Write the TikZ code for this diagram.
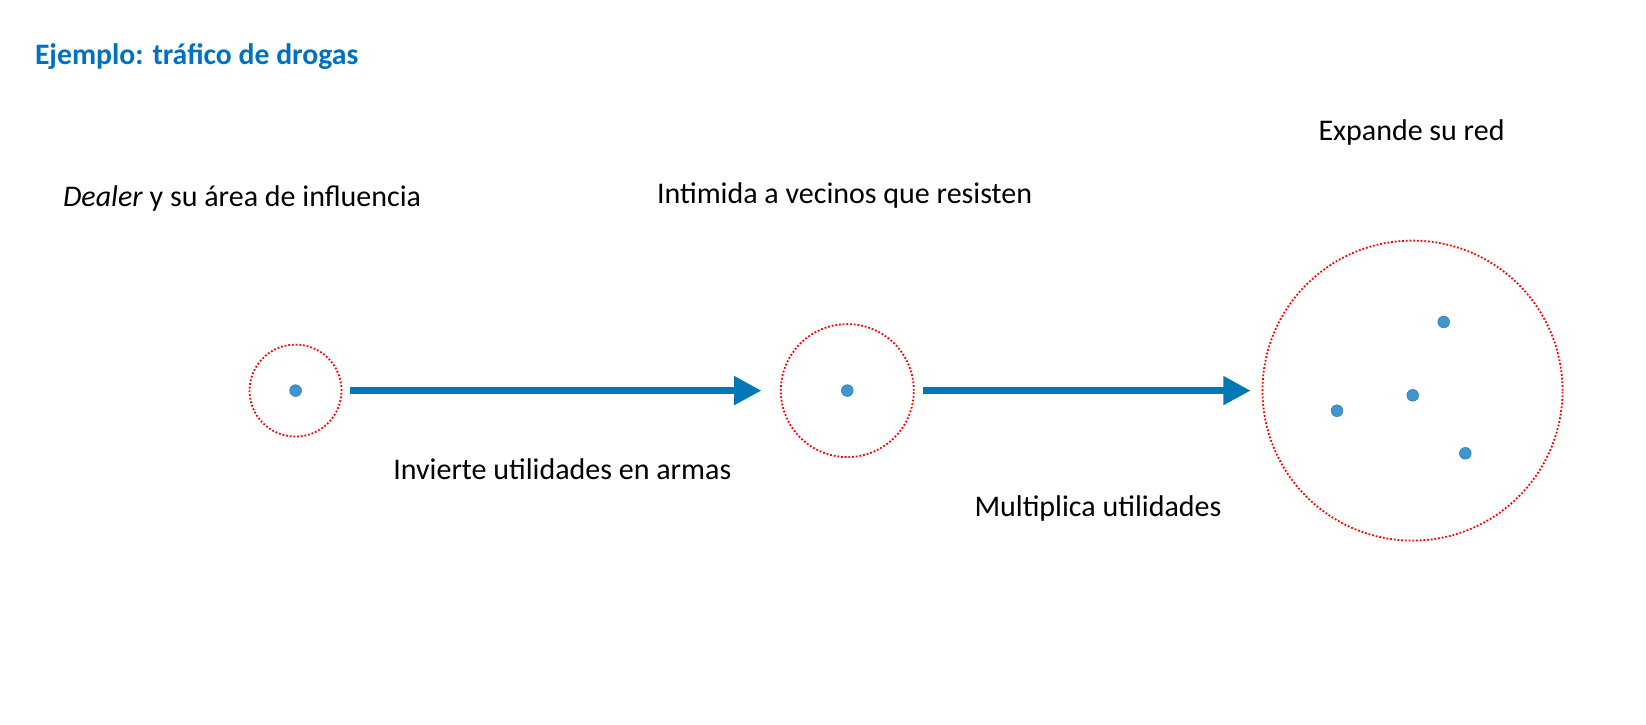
\documentclass[tikz,border=0pt]{standalone}
\usepackage{fontspec}
\setmainfont{Carlito}
\usetikzlibrary{arrows.meta}
\definecolor{titleblue}{HTML}{0070C0}
\definecolor{arrowblue}{HTML}{0078B8}
\definecolor{dotblue}{HTML}{3E96CD}
\definecolor{dotedge}{HTML}{2F7AAE}
\definecolor{ringred}{HTML}{FF0000}
\begin{document}
\begin{tikzpicture}[x=1pt,y=-1pt,
  lbl/.style={anchor=base west,inner sep=0pt,outer sep=0pt,font=\fontsize{30}{36}\selectfont,text=black},
  ttl/.style={anchor=base west,inner sep=0pt,outer sep=0pt,font=\fontsize{29.7}{36}\selectfont\bfseries,text=titleblue},
  ring/.style={circle,draw=ringred,line width=1.8pt,dash pattern=on 1.8pt off 1.9pt,inner sep=0pt,outer sep=0pt},
  dealer/.style={circle,fill=dotblue,draw=dotedge,line width=0.5pt,minimum size=11.8pt,inner sep=0pt},
  flow/.style={draw=arrowblue,line width=7.2pt,-{Triangle[length=27.4pt,width=27.3pt,fill=arrowblue]}}
]
\useasboundingbox (0,0) rectangle (1646,725);
\node[ttl] (title) at (35,64) {Ejemplo: tráfico de drogas};

\node[ring,minimum size=92pt] (c1) at (295.5,390.6) {};
\node[ring,minimum size=133pt] (c2) at (847.3,390.6) {};
\node[ring,minimum size=300pt] (c3) at (1412.5,390.6) {};

\node[dealer] (d1) at (295.6,390.6) {};
\node[dealer] (d2) at (847.3,390.6) {};
\node[dealer] (d3) at (1443.7,322) {};
\node[dealer] (d4) at (1412.7,395.3) {};
\node[dealer] (d5) at (1337,410.7) {};
\node[dealer] (d6) at (1465.3,453.3) {};

\draw[flow,shorten <=8.5pt,shorten >=19.3pt] (c1) -- (c2);
\draw[flow,shorten <=9pt,shorten >=11.8pt] (c2) -- (c3);

\node[lbl] (t1) at (63,206) {\textit{Dealer} y su área de influencia};
\node[lbl] (t2) at (657,203.3) {Intimida a vecinos que resisten};
\node[lbl] (t3) at (1318.5,140) {Expande su red};
\node[lbl] (t4) at (393.3,479.3) {Invierte utilidades en armas};
\node[lbl] (t5) at (974.5,516.7) {Multiplica utilidades};
\end{tikzpicture}
\end{document}
